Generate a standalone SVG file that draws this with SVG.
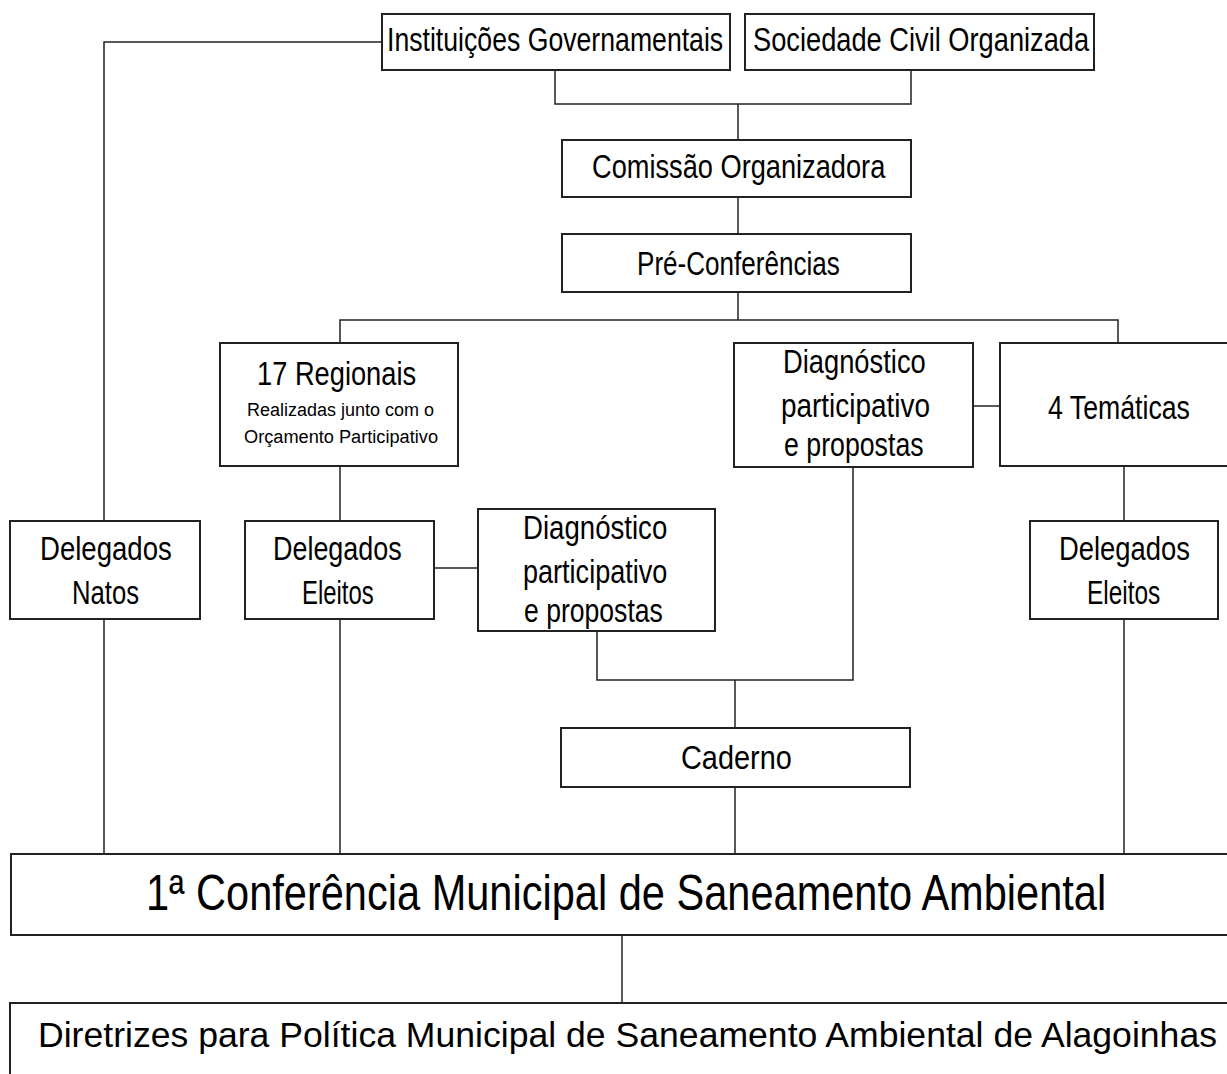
<svg xmlns="http://www.w3.org/2000/svg" width="1227" height="1074" viewBox="0 0 1227 1074">
<style>
.box{fill:#fff;stroke:#222;stroke-width:2}
.con{fill:none;stroke:#222;stroke-width:1.5}
text{font-family:"Liberation Sans",Arial,sans-serif;fill:#000}
.m{font-size:33px}
.s{font-size:18px}
</style>
<rect width="1227" height="1074" fill="#fff"/>
<g id="connectors" class="con">
<path d="M382,42 H104 V521"/>
<path d="M104,619 V854"/>
<path d="M555,70 V104 H911 V70"/>
<path d="M738,104 V140"/>
<path d="M738,197 V234"/>
<path d="M738,292 V320"/>
<path d="M340,343 V320 H1118 V343"/>
<path d="M340,466 V521"/>
<path d="M340,619 V854"/>
<path d="M434,568 H478"/>
<path d="M597,631 V680 H853 V467"/>
<path d="M735,680 V728"/>
<path d="M735,787 V854"/>
<path d="M973,406 H1000"/>
<path d="M1124,466 V521"/>
<path d="M1124,619 V854"/>
<path d="M622,935 V1003"/>
</g>
<g id="inst"><rect class="box" x="382" y="14" width="348" height="56"/><text class="m" transform="translate(387,51) scale(0.78,1)" textLength="431" lengthAdjust="spacingAndGlyphs">Instituições Governamentais</text></g>
<g id="soc"><rect class="box" x="745" y="14" width="349" height="56"/><text class="m" transform="translate(753,51) scale(0.78,1)" textLength="431" lengthAdjust="spacingAndGlyphs">Sociedade Civil Organizada</text></g>
<g id="comissao"><rect class="box" x="562" y="140" width="349" height="57"/><text class="m" transform="translate(592,178) scale(0.78,1)" textLength="376" lengthAdjust="spacingAndGlyphs">Comissão Organizadora</text></g>
<g id="pre"><rect class="box" x="562" y="234" width="349" height="58"/><text class="m" transform="translate(637,275) scale(0.78,1)" textLength="260" lengthAdjust="spacingAndGlyphs">Pré-Conferências</text></g>
<g id="regionais"><rect class="box" x="220" y="343" width="238" height="123"/>
<text class="m" transform="translate(257,385) scale(0.78,1)" textLength="204" lengthAdjust="spacingAndGlyphs">17 Regionais</text>
<text class="s" x="247" y="416" textLength="187" lengthAdjust="spacingAndGlyphs">Realizadas junto com o</text>
<text class="s" x="244" y="443" textLength="194" lengthAdjust="spacingAndGlyphs">Orçamento Participativo</text></g>
<g id="diag-top"><rect class="box" x="734" y="343" width="239" height="124"/>
<text class="m" transform="translate(783,373) scale(0.78,1)" textLength="183" lengthAdjust="spacingAndGlyphs">Diagnóstico</text>
<text class="m" transform="translate(781,417) scale(0.78,1)" textLength="191" lengthAdjust="spacingAndGlyphs">participativo</text>
<text class="m" transform="translate(784,456) scale(0.78,1)" textLength="179" lengthAdjust="spacingAndGlyphs">e propostas</text></g>
<g id="tematicas"><rect class="box" x="1000" y="343" width="240" height="123"/><text class="m" transform="translate(1048,419) scale(0.78,1)" textLength="182" lengthAdjust="spacingAndGlyphs">4 Temáticas</text></g>
<g id="natos"><rect class="box" x="10" y="521" width="190" height="98"/>
<text class="m" transform="translate(40,560) scale(0.78,1)" textLength="169" lengthAdjust="spacingAndGlyphs">Delegados</text>
<text class="m" transform="translate(72,604) scale(0.78,1)" textLength="86" lengthAdjust="spacingAndGlyphs">Natos</text></g>
<g id="eleitos-left"><rect class="box" x="245" y="521" width="189" height="98"/>
<text class="m" transform="translate(273,560) scale(0.78,1)" textLength="165" lengthAdjust="spacingAndGlyphs">Delegados</text>
<text class="m" transform="translate(302,604) scale(0.78,1)" textLength="92" lengthAdjust="spacingAndGlyphs">Eleitos</text></g>
<g id="diag-left"><rect class="box" x="478" y="509" width="237" height="122"/>
<text class="m" transform="translate(523,539) scale(0.78,1)" textLength="185" lengthAdjust="spacingAndGlyphs">Diagnóstico</text>
<text class="m" transform="translate(523,583) scale(0.78,1)" textLength="185" lengthAdjust="spacingAndGlyphs">participativo</text>
<text class="m" transform="translate(524,622) scale(0.78,1)" textLength="178" lengthAdjust="spacingAndGlyphs">e propostas</text></g>
<g id="eleitos-right"><rect class="box" x="1030" y="521" width="188" height="98"/>
<text class="m" transform="translate(1059,560) scale(0.78,1)" textLength="168" lengthAdjust="spacingAndGlyphs">Delegados</text>
<text class="m" transform="translate(1087,604) scale(0.78,1)" textLength="94" lengthAdjust="spacingAndGlyphs">Eleitos</text></g>
<g id="caderno"><rect class="box" x="561" y="728" width="349" height="59"/><text class="m" transform="translate(681,769) scale(0.78,1)" textLength="142" lengthAdjust="spacingAndGlyphs">Caderno</text></g>
<g id="conferencia"><rect class="box" x="11" y="854" width="1230" height="81"/><text font-size="50" transform="translate(146,910) scale(0.78,1)" textLength="1231" lengthAdjust="spacingAndGlyphs">1ª Conferência Municipal de Saneamento Ambiental</text></g>
<g id="diretrizes"><rect class="box" x="10" y="1003" width="1231" height="90"/><text x="38" y="1047" font-size="35" textLength="1179" lengthAdjust="spacingAndGlyphs">Diretrizes para Política Municipal de Saneamento Ambiental de Alagoinhas</text></g>
</svg>
